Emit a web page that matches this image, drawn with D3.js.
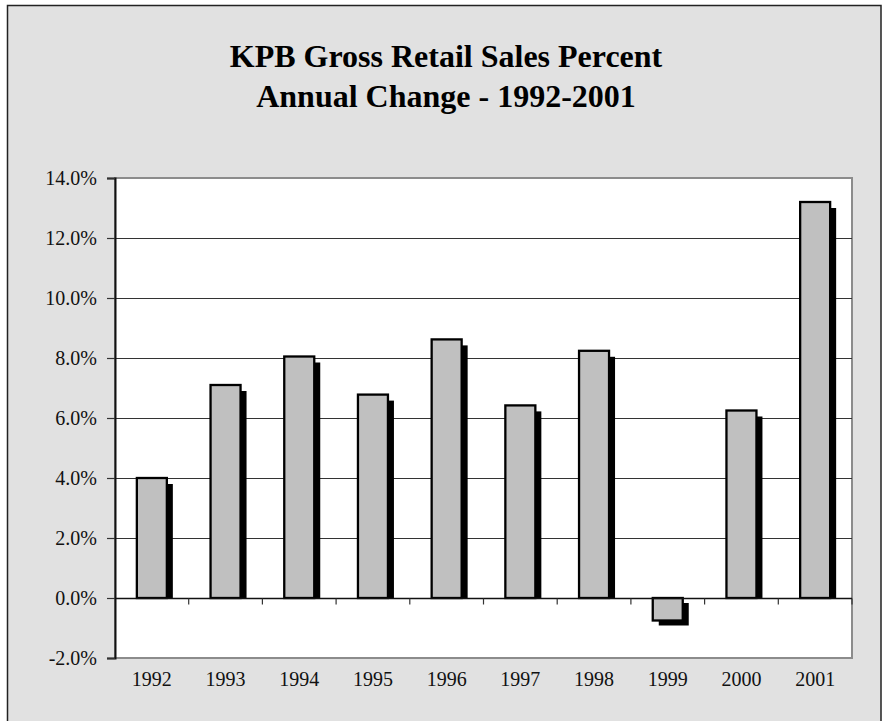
<!DOCTYPE html>
<html><head><meta charset="utf-8">
<script src="https://cdn.jsdelivr.net/npm/d3@7"></script>
<style>body{margin:0;background:#fff}</style>
</head><body>
<script>
const years = ["1992","1993","1994","1995","1996","1997","1998","1999","2000","2001"];
const values = [4.0, 7.1, 8.05, 6.78, 8.62, 6.42, 8.24, -0.75, 6.25, 13.2];
const yTicks = [-2, 0, 2, 4, 6, 8, 10, 12, 14];
const titleLines = ["KPB Gross Retail Sales Percent", "Annual Change - 1992-2001"];

const W = 888, H = 721;
const svg = d3.select("body").append("svg").attr("width", W).attr("height", H);
svg.append("rect").attr("x",0).attr("y",0).attr("width",W).attr("height",H).attr("fill","#fff");
svg.append("rect").attr("x",7.5).attr("y",5.5).attr("width",873.5).attr("height",730)
  .attr("fill","#e1e1e1").attr("stroke","#222").attr("stroke-width",1.5);

const L = 115, R = 852, T = 178, B = 658;
const x = d3.scaleBand().domain(years).range([L, R]).paddingInner(0.593).paddingOuter(0.2965);
const y = d3.scaleLinear().domain([-2, 14]).range([B, T]);

// plot area
svg.append("rect").attr("x",L).attr("y",T).attr("width",R-L).attr("height",B-T)
  .attr("fill","#fff").attr("stroke","#8c8c8c").attr("stroke-width",2);

// gridlines
svg.append("g").selectAll("line").data(yTicks.filter(d => d !== -2 && d !== 14 && d !== 0)).join("line")
  .attr("x1",L).attr("x2",R).attr("y1",d=>Math.round(y(d))+0.5).attr("y2",d=>Math.round(y(d))+0.5)
  .attr("stroke","#333").attr("stroke-width",1);

// left axis
const yAxis = d3.axisLeft(y).tickValues(yTicks)
  .tickFormat(d => (d < 0 ? "-" : "") + Math.abs(d).toFixed(1) + "%").tickSize(8).tickPadding(10);
const gy = svg.append("g").attr("transform",`translate(${L},0)`).call(yAxis);
gy.select(".domain").attr("stroke","#111").attr("stroke-width",2);
gy.selectAll(".tick line").attr("stroke","#333").attr("stroke-width",1.2);
gy.selectAll("text").attr("font-family","'Liberation Serif', 'Times New Roman', serif").attr("font-size",20).attr("fill","#111");

const y0 = y(0);
// shadows
svg.append("g").selectAll("rect").data(values).join("rect")
  .attr("x",(d,i)=>x(years[i])+6)
  .attr("y",d => d>=0 ? y(d)+6 : y0+5)
  .attr("width",x.bandwidth())
  .attr("height",d => d>=0 ? Math.max(0, y0 - y(d) - 6) : y(d)-y0)
  .attr("fill","#000");
// bars
svg.append("g").selectAll("rect").data(values).join("rect")
  .attr("x",(d,i)=>x(years[i]))
  .attr("y",d => Math.min(y(d), y0))
  .attr("width",x.bandwidth())
  .attr("height",d => Math.abs(y(d)-y0))
  .attr("fill","#c0c0c0").attr("stroke","#000").attr("stroke-width",2.3);

// zero axis with ticks at category boundaries
const gx = svg.append("g").attr("transform",`translate(0,${Math.round(y0)+0.5})`);
gx.append("line").attr("x1",L).attr("x2",R).attr("stroke","#111").attr("stroke-width",1.3);
const step = x.step();
gx.selectAll("line.tk").data(d3.range(1, years.length+1)).join("line").attr("class","tk")
  .attr("x1",i=>L+i*step).attr("x2",i=>L+i*step).attr("y1",0).attr("y2",6)
  .attr("stroke","#333").attr("stroke-width",1.2);

// x labels
svg.append("g").selectAll("text").data(years).join("text")
  .attr("x",d=>x(d)+x.bandwidth()/2).attr("y",686)
  .attr("text-anchor","middle")
  .attr("font-family","'Liberation Serif', 'Times New Roman', serif").attr("font-size",20).attr("fill","#111")
  .text(d=>d);

// title
svg.append("g").selectAll("text").data(titleLines).join("text")
  .attr("x",446).attr("y",(d,i)=>67 + i*39.5)
  .attr("text-anchor","middle")
  .attr("font-family","'Liberation Serif', 'Times New Roman', serif").attr("font-weight","bold").attr("font-size",32).attr("fill","#000")
  .text(d=>d);
</script>
</body></html>
